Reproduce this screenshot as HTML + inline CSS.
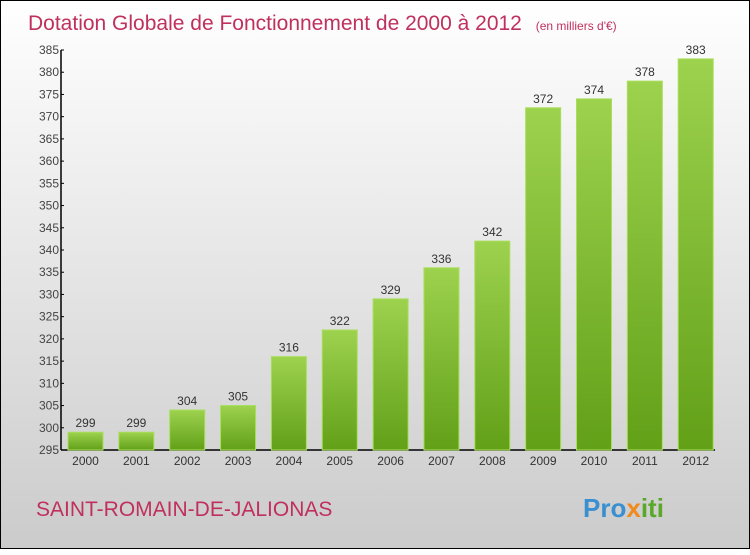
<!DOCTYPE html>
<html><head><meta charset="utf-8"><style>
html,body{margin:0;padding:0;}
body{width:750px;height:550px;overflow:hidden;font-family:"Liberation Sans",sans-serif;}
</style></head><body>
<svg width="750" height="550" xmlns="http://www.w3.org/2000/svg">
<defs>
<linearGradient id="bg" x1="0" y1="0" x2="0" y2="1"><stop offset="0" stop-color="#ffffff"/><stop offset="1" stop-color="#cbcbcb"/></linearGradient>
<linearGradient id="bar" x1="0" y1="0" x2="0" y2="1"><stop offset="0" stop-color="#9dd24e"/><stop offset="1" stop-color="#62a018"/></linearGradient>
</defs>
<rect x="0.5" y="0.5" width="749" height="548" fill="url(#bg)" stroke="#000"/>
<text x="28" y="30" font-size="21" fill="#c0305e">Dotation Globale de Fonctionnement de 2000 à 2012 <tspan font-size="12" dx="8">(en milliers d'€)</tspan></text>
<g id="axes"></g>
<g id="bars"></g>
<text x="36" y="516" font-size="21" fill="#c0305e">SAINT-ROMAIN-DE-JALIONAS</text>
<text x="583" y="517" font-size="26" font-weight="bold" fill="#3a8fd0">Pro<tspan fill="#f08a1c">x</tspan><tspan fill="#5aa82a">iti</tspan></text>
</svg>
<script>
const years=["2000","2001","2002","2003","2004","2005","2006","2007","2008","2009","2010","2011","2012"];
const values=[299,299,304,305,316,322,329,336,342,372,374,378,383];
const yTicks=[295,300,305,310,315,320,325,330,335,340,345,350,355,360,365,370,375,380,385];
const NS="http://www.w3.org/2000/svg";
const yMin=295,yMax=385,plotTop=50,plotBot=450,axisX=61,x0=68,step=50.85,bw=35;
function yS(v){return plotBot-(v-yMin)/(yMax-yMin)*(plotBot-plotTop);}
function mk(t,a,txt){const e=document.createElementNS(NS,t);for(const k in a)e.setAttribute(k,a[k]);if(txt!==undefined)e.textContent=txt;return e;}
const axG=document.getElementById('axes'),barG=document.getElementById('bars');
const yl=mk('line',{x1:axisX,y1:plotTop,x2:axisX,y2:plotBot,stroke:'#000','stroke-width':1.5});


axG.appendChild(yl);
const xl=mk('line',{x1:axisX,y1:plotBot,x2:715,y2:plotBot,stroke:'#000','stroke-width':1.5});


axG.appendChild(xl);
yTicks.forEach(v=>{
  const tk=mk('line',{x1:axisX,y1:yS(v),x2:axisX+3,y2:yS(v),stroke:'#000'});
  
  
  axG.appendChild(tk);
  const t=mk('text',{x:axisX-2,y:yS(v)+4,'text-anchor':'end','font-size':12,fill:'#444'},v);
  
  
  axG.appendChild(t);
});
values.forEach((v,i)=>{
  const x=x0+i*step;
  const r=mk('rect',{x:x,y:yS(v),width:bw,height:plotBot-yS(v),fill:'url(#bar)',stroke:'#a8de5c','stroke-width':1});
  
  
  barG.appendChild(r);
  const vl=mk('text',{x:x+bw/2,y:yS(v)-5,'text-anchor':'middle','font-size':12,fill:'#333'},v);
  
  
  barG.appendChild(vl);
  const xt=mk('text',{x:x+bw/2,y:plotBot+15,'text-anchor':'middle','font-size':12,fill:'#333'},years[i]);
  
  
  barG.appendChild(xt);
});
</script>
</body></html>
